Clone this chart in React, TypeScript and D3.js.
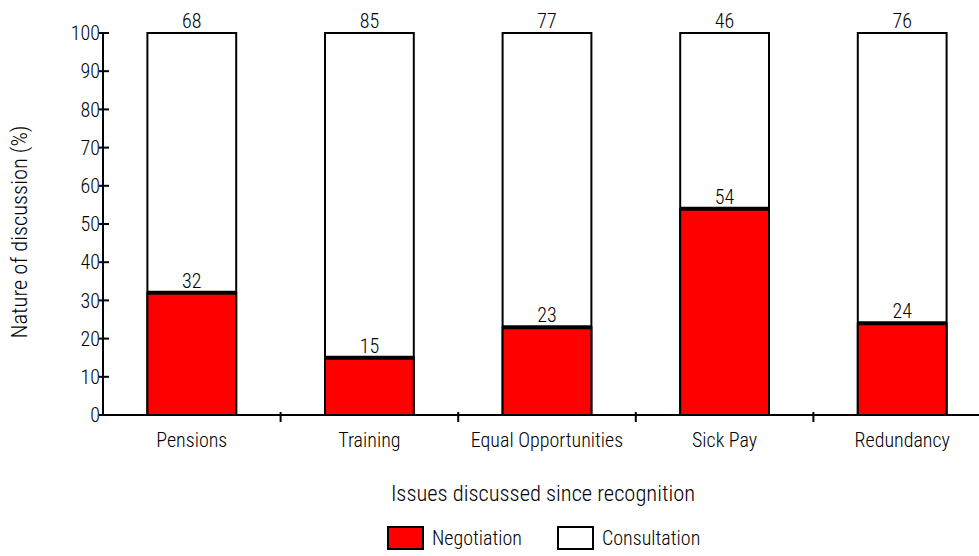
import React, { useEffect, useRef } from 'react';
import * as d3 from 'd3';

const categories = ['Pensions', 'Training', 'Equal Opportunities', 'Sick Pay', 'Redundancy'];
const negotiation = [32, 15, 23, 54, 24];
const consultation = [68, 85, 77, 46, 76];
const yTicks = [0, 10, 20, 30, 40, 50, 60, 70, 80, 90, 100];

const FONT = '"Roboto Condensed", "Liberation Sans Narrow", sans-serif';

const App = () => {
  const ref = useRef<SVGSVGElement>(null);

  useEffect(() => {
    const svg = d3.select(ref.current);
    svg.selectAll('*').remove();

    const left = 103, right = 991, top = 33, bottom = 415;

    const x = d3.scaleBand<string>().domain(categories).range([left, right]).paddingInner(0.5).paddingOuter(0.25);
    const y = d3.scaleLinear().domain([0, 100]).range([bottom, top]);
    const step = x.step();

    const g = svg.append('g').attr('font-family', FONT).attr('font-size', 20)
      .attr('font-weight', 300).attr('fill', '#000');

    // bars
    categories.forEach((c, i) => {
      const bx = x(c)!;
      const bw = x.bandwidth();
      const n = negotiation[i];
      g.append('rect')
        .attr('x', bx).attr('y', y(100)).attr('width', bw).attr('height', y(0) - y(100))
        .attr('fill', '#fff').attr('stroke', '#000').attr('stroke-width', 2);
      g.append('rect')
        .attr('x', bx).attr('y', y(n)).attr('width', bw).attr('height', y(0) - y(n))
        .attr('fill', '#ff0000').attr('stroke', '#000').attr('stroke-width', 2);
      g.append('line')
        .attr('x1', bx).attr('x2', bx + bw).attr('y1', y(n)).attr('y2', y(n))
        .attr('stroke', '#000').attr('stroke-width', 4);
      g.append('text')
        .attr('x', bx + bw / 2).attr('y', y(n) - 5).attr('text-anchor', 'middle')
        .text(n);
      g.append('text')
        .attr('x', bx + bw / 2).attr('y', y(100) - 5).attr('text-anchor', 'middle')
        .text(consultation[i]);
      g.append('text')
        .attr('x', bx + bw / 2).attr('y', bottom + 32).attr('text-anchor', 'middle')
        .text(c);
    });

    // y axis
    g.append('line').attr('x1', left).attr('x2', left).attr('y1', top).attr('y2', bottom)
      .attr('stroke', '#000').attr('stroke-width', 2);
    yTicks.forEach(t => {
      g.append('line').attr('x1', left - 4).attr('x2', left + 6).attr('y1', y(t)).attr('y2', y(t))
        .attr('stroke', '#000').attr('stroke-width', 2);
      g.append('text').attr('x', left - 3).attr('y', y(t)).attr('dy', '0.36em')
        .attr('text-anchor', 'end').text(t);
    });

    // x axis
    g.append('line').attr('x1', left).attr('x2', 979).attr('y1', bottom).attr('y2', bottom)
      .attr('stroke', '#000').attr('stroke-width', 2);
    categories.slice(1).forEach(c => {
      const tx = x(c)! - (step - x.bandwidth()) / 2;
      g.append('line').attr('x1', tx).attr('x2', tx).attr('y1', bottom - 3).attr('y2', bottom + 7)
        .attr('stroke', '#000').attr('stroke-width', 2);
    });

    // axis titles
    g.append('text').attr('transform', `translate(27,${(top + bottom) / 2 + 8}) rotate(-90)`)
      .attr('text-anchor', 'middle').attr('font-size', 22.5).text('Nature of discussion (%)');
    g.append('text').attr('x', 543).attr('y', 501).attr('text-anchor', 'middle')
      .attr('font-size', 22.5).text('Issues discussed since recognition');

    // legend
    const legend = [
      { label: 'Negotiation', fill: '#ff0000', x: 388 },
      { label: 'Consultation', fill: '#fff', x: 558 },
    ];
    legend.forEach(l => {
      g.append('rect').attr('x', l.x).attr('y', 527).attr('width', 35).attr('height', 22)
        .attr('fill', l.fill).attr('stroke', '#000').attr('stroke-width', 2);
      g.append('text').attr('x', l.x + 44).attr('y', 538).attr('dy', '0.36em').text(l.label);
    });
  }, []);

  return (
    <svg ref={ref} width={979} height={556} style={{ position: 'absolute', left: 0, top: 0, background: '#fff' }} />
  );
};

export default App;
